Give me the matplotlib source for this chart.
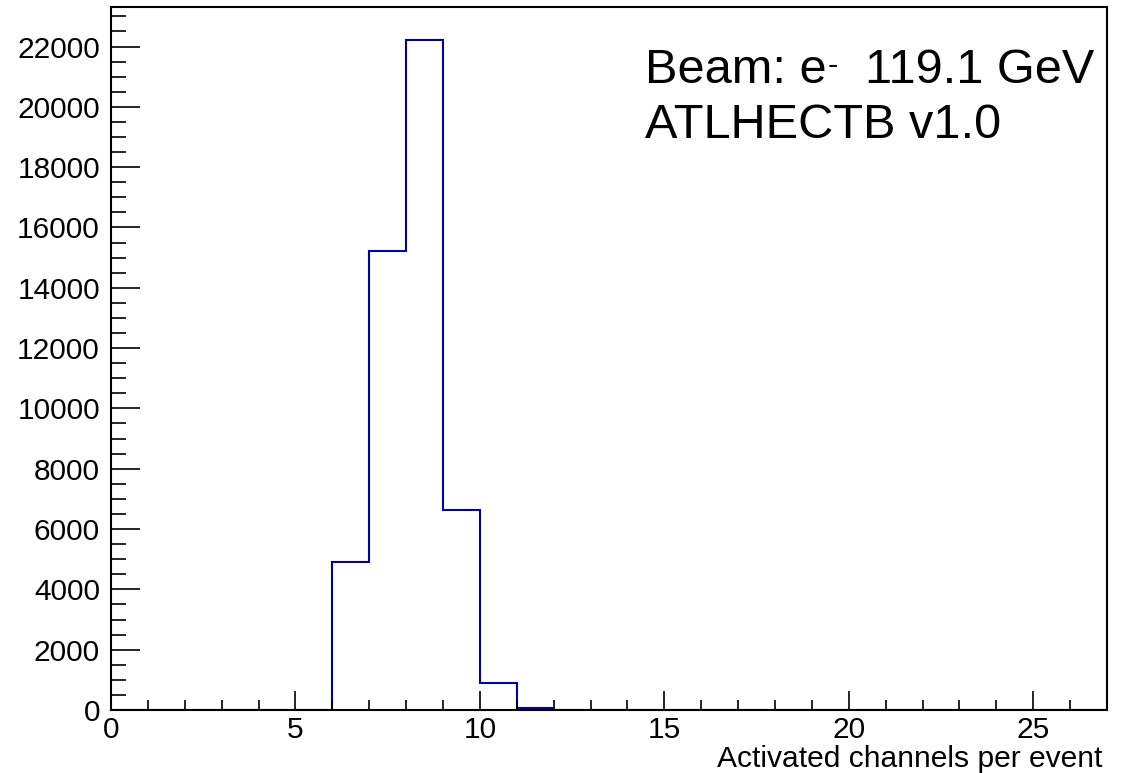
import matplotlib
matplotlib.use("Agg")
import matplotlib.pyplot as plt
import numpy as np
from matplotlib.ticker import MultipleLocator

plt.rcParams['font.family'] = ['Liberation Sans', 'DejaVu Sans']

# histogram: activated channels per event, 1-wide bins from 0 to 27
bin_edges = np.arange(0, 28)
counts = [0, 0, 0, 0, 0, 0, 4920, 15230, 22200, 6630, 890, 55, 15, 3,
          0, 0, 0, 0, 0, 0, 0, 0, 0, 0, 0, 0, 0]

x_label = "Activated channels per event"
beam_parts = ("Beam: e", "-", "119.1 GeV")   # e^- drawn as a raised small dash
geo_text = "ATLHECTB v1.0"

W, H = 1127, 773
fig = plt.figure(figsize=(W / 100, H / 100), dpi=100)
ax = fig.add_axes([111 / W, 1 - 710 / H, (1107 - 111) / W, (710 - 7) / H])

ax.stairs(counts, bin_edges, baseline=None, color='#0000a6', linewidth=1.5)

ax.set_xlim(0, 27)
ax.set_ylim(0, max(counts) * 1.05)

ax.xaxis.set_major_locator(MultipleLocator(5))
ax.xaxis.set_minor_locator(MultipleLocator(1))
ax.yaxis.set_major_locator(MultipleLocator(2000))
ax.yaxis.set_minor_locator(MultipleLocator(500))

ax.tick_params(axis='both', which='both', direction='in', top=False, right=False,
               labelsize=21.5, width=1.2, color='black')
ax.tick_params(axis='y', which='major', length=21, pad=8)
ax.tick_params(axis='y', which='minor', length=11)
ax.tick_params(axis='x', which='major', length=14, pad=4)
ax.tick_params(axis='x', which='minor', length=7)

for s in ax.spines.values():
    s.set_linewidth(1.5)

fig.text(1102 / W, 1 - 767 / H, x_label, ha='right', va='baseline', fontsize=21.6)

# "Beam: e- 119.1 GeV" in three pieces so the superscript dash stays short
renderer = fig.canvas.get_renderer()
yb = 1 - 83 / H
t1 = fig.text(645 / W, yb, beam_parts[0], ha='left', va='baseline', fontsize=35)
x1 = t1.get_window_extent(renderer).x1
t2 = fig.text((x1 + 1) / W, yb + 9 / H, beam_parts[1], ha='left', va='baseline',
              fontsize=22)
x2 = t2.get_window_extent(renderer).x1
fig.text((x2 + 27) / W, yb, beam_parts[2], ha='left', va='baseline', fontsize=35)

fig.text(645 / W, 1 - 138 / H, geo_text, ha='left', va='baseline', fontsize=35)

fig.savefig("out.png", dpi=100)
